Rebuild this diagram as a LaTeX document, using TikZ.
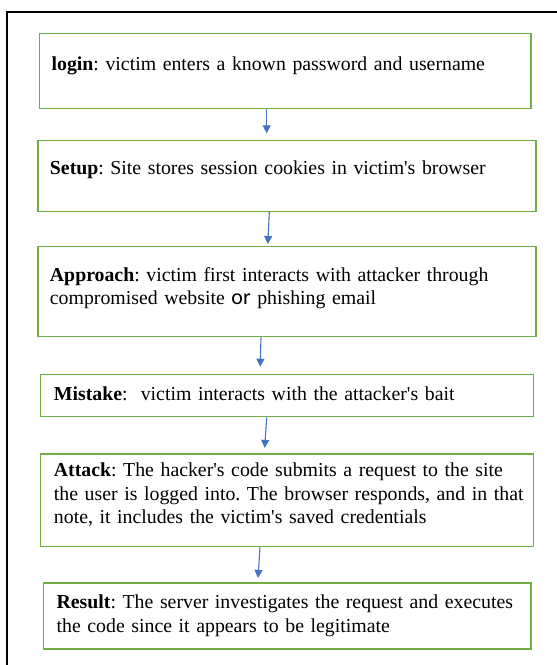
\documentclass[tikz,border=0pt]{standalone}
\usepackage{fontspec}
\setmainfont{Liberation Serif}
\setsansfont{Carlito}
\usetikzlibrary{arrows.meta}
\definecolor{boxgreen}{RGB}{112,173,71}
\definecolor{arrowblue}{RGB}{68,114,196}
\newcommand{\ap}{\textquotesingle}
\newcommand{\txtrow}[1]{\mbox{#1}}
\frenchspacing

\begin{document}
\begin{tikzpicture}[x=1pt,y=-1pt,
    stepbox/.style={draw=boxgreen,line width=1.3pt,anchor=north west,
      align=left,inner ysep=0pt,font=\fontsize{19.8}{23.5}\selectfont},
    flow/.style={draw=arrowblue,line width=1.1pt,
      -{Triangle[width=8pt,length=8pt]}}]
          \useasboundingbox (0,0) rectangle (557,665);
          %\draw[very thin,lightgray] (0,0) grid[step=50] (557,665);
          % frame, open at the right and bottom
          \draw[line width=2pt] (562,12)--(7.3,12)--(7.3,670);
          \node[stepbox,inner xsep=12pt,text width=467.3pt,text height=37pt,
            text depth=38pt] (login) at (39,33)
            {\txtrow{\textbf{login}: victim enters a known password and username}};
          \node[stepbox,inner xsep=12pt,text width=474pt,text height=34.3pt,
            text depth=36.4pt] (setup) at (37.3,140)
            {\txtrow{\textbf{Setup}: Site stores session cookies in victim\ap s browser}};
          \node[stepbox,inner xsep=12pt,text width=474pt,text height=34.8pt,
            text depth=55.5pt] (approach) at (37.3,245.7)
            {\txtrow{\textbf{Approach}: victim first interacts with attacker through}\\
            \txtrow{compromised website {\sffamily\fontsize{22}{23.5}\selectfont or} phishing email}};
          \node[stepbox,inner xsep=13.3pt,text width=466pt,text height=25.5pt,
            text depth=16.5pt] (mistake) at (40,374)
            {\txtrow{\textbf{Mistake}:~ victim interacts with the attacker\ap s bait}};
          \node[stepbox,inner xsep=13.3pt,text width=466pt,text height=22.7pt,
            text depth=70pt] (attack) at (40,453.3)
            {\txtrow{\textbf{Attack}: The hacker\ap s code submits a request to the site}\\
            \txtrow{the user is logged into. The browser responds, and in that}\\
            \txtrow{note, it includes the victim\ap s saved credentials}};
          \node[stepbox,inner xsep=13.3pt,text width=461pt,text height=26pt,
            text depth=40pt] (result) at (42.7,582.3)
            {\txtrow{\textbf{Result}: The server investigates the request and executes}\\
            \txtrow{the code since it appears to be legitimate}};
          \draw[flow,shorten >=6.7pt] ([xshift=227.7pt]login.south west)--
          ([xshift=229.4pt]setup.north west);
          \draw[flow,shorten >=1.7pt] ([xshift=232pt]setup.south west)--
          ([xshift=230.4pt]approach.north west);
          \draw[flow,shorten >=7.3pt] ([xshift=223.7pt]approach.south west)--
          ([xshift=220pt]mistake.north west);
          \draw[flow,shorten >=5.4pt] ([xshift=226.7pt]mistake.south west)--
          ([xshift=224.3pt]attack.north west);
          \draw[flow,shorten >=4.4pt] ([xshift=220pt]attack.south west)--
          ([xshift=215pt]result.north west);
        \end{tikzpicture}
\end{document}
